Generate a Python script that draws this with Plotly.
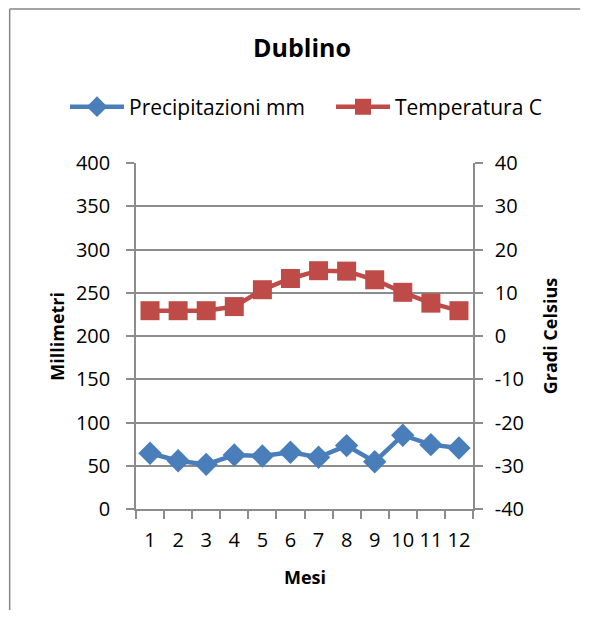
import plotly.graph_objects as go

months = ["1", "2", "3", "4", "5", "6", "7", "8", "9", "10", "11", "12"]
precip_mm = [64.4, 55.8, 51.6, 62.4, 61.3, 65.6, 59.8, 73.3, 54.7, 85.3, 74.4, 70.6]
temp_c = [5.85, 5.85, 5.85, 6.8, 10.7, 13.3, 15.1, 15.0, 13.0, 10.1, 7.6, 5.85]
mm_ticks = [0, 50, 100, 150, 200, 250, 300, 350, 400]
c_ticks = [-40, -30, -20, -10, 0, 10, 20, 30, 40]
c_ticktext = ["-40", "-30", "-20", "-10", "0", "10", "20", "30", "40"]

FONT = "Open Sans"
GRID = "#8c8c8c"
BLUE = "#4a7ebb"
RED = "#be4b48"

OFF = 8  # page body margin
W, H = 574, 602
L, R, T, B = 127.5, 108.5, 155, 101
pw, ph = W - L - R, H - T - B

def px_x(x):  # screen px -> paper
    return (x - OFF - L) / pw

def px_y(y):
    return (H - B - (y - OFF)) / ph

def cx(x):  # screen px -> container
    return (x - OFF) / W

fig = go.Figure()
fig.add_trace(go.Scatter(
    x=months, y=precip_mm, name="Precipitazioni mm", mode="lines+markers",
    line=dict(color=BLUE, width=4.5),
    marker=dict(symbol="diamond", size=18, color=BLUE),
    yaxis="y", legend="legend"))
fig.add_trace(go.Scatter(
    x=months, y=temp_c, name="Temperatura C", mode="lines+markers",
    line=dict(color=RED, width=4.5),
    marker=dict(symbol="square", size=19, color=RED),
    yaxis="y2", legend="legend2"))

axis_common = dict(ticks="outside", ticklen=8, tickcolor=GRID, tickwidth=1.5,
                   showline=True, linecolor=GRID, linewidth=1.5, zeroline=False,
                   tickfont=dict(family=FONT, size=20, color="#000000"))

legend_common = dict(orientation="h", xref="container", xanchor="left",
                     y=px_y(107), yanchor="middle", itemwidth=54,
                     font=dict(family=FONT, size=21, color="#000000"),
                     bgcolor="rgba(0,0,0,0)")

fig.update_layout(
    width=W, height=H,
    margin=dict(l=L, r=R, t=T, b=B, autoexpand=False),
    paper_bgcolor="white", plot_bgcolor="white",
    font=dict(family=FONT, size=20, color="#000000"),
    title=dict(text="<b>Dublino</b>", x=cx(302), xref="container", xanchor="center",
               y=1 - (48 - OFF) / H, yref="container", yanchor="middle",
               font=dict(family=FONT, size=25, color="#000000")),
    showlegend=True,
    legend=dict(x=cx(65), **legend_common),
    legend2=dict(x=cx(331), **legend_common),
    xaxis=dict(type="category", tickson="boundaries", showgrid=False, tickangle=0,
               ticklabelstandoff=12, range=[-0.5, 11.5], **axis_common),
    yaxis=dict(range=[0, 400], tickvals=mm_ticks, showgrid=True, gridcolor=GRID,
               gridwidth=1.5, ticklabelstandoff=12, **axis_common),
    yaxis2=dict(range=[-40, 40], tickvals=c_ticks, ticktext=c_ticktext, overlaying="y",
                side="right", showgrid=False, ticklabelstandoff=8, **axis_common),
    annotations=[
        dict(text="<b>Millimetri</b>", x=px_x(56), y=0.5, xref="paper", yref="paper",
             xanchor="center", yanchor="middle",
             textangle=-90, showarrow=False, font=dict(family=FONT, size=18)),
        dict(text="<b>Gradi Celsius</b>", x=px_x(551), y=0.5, xref="paper", yref="paper",
             xanchor="center", yanchor="middle",
             textangle=-90, showarrow=False, font=dict(family=FONT, size=18)),
        dict(text="<b>Mesi</b>", x=px_x(305), y=px_y(577), xref="paper", yref="paper",
             xanchor="center", yanchor="middle",
             showarrow=False, font=dict(family=FONT, size=18)),
    ],
    shapes=[
        dict(type="line", xref="paper", yref="paper",
             x0=px_x(OFF + 0.8), x1=px_x(OFF + 0.8), y0=px_y(800), y1=px_y(9),
             line=dict(color="#868686", width=1.5), layer="below"),
        dict(type="line", xref="paper", yref="paper",
             x0=px_x(OFF + 0.8), x1=px_x(OFF + W - 1), y0=px_y(9), y1=px_y(9),
             line=dict(color="#868686", width=1.5), layer="below"),
    ],
)

fig.write_html("out.html")
